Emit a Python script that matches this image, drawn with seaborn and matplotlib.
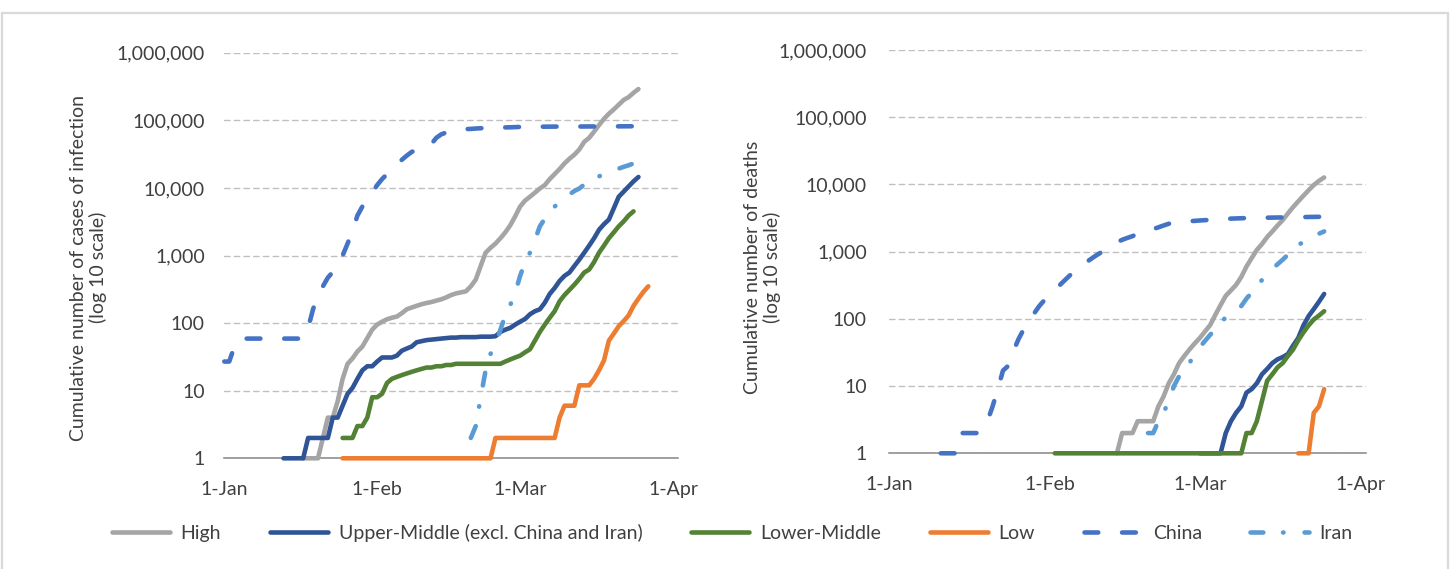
import matplotlib
matplotlib.use("Agg")
import matplotlib.pyplot as plt
import matplotlib.dates as mdates
from matplotlib.ticker import FixedLocator, FuncFormatter, NullLocator
from matplotlib.lines import Line2D
from matplotlib.patches import Rectangle
import pandas as pd
import seaborn as sns

# ---------------- data ----------------
GROUPS = ["High", "Upper-Middle (excl. China and Iran)", "Lower-Middle", "Low", "China", "Iran"]
X_TICKS = ["2020-01-01", "2020-02-01", "2020-03-01", "2020-04-01"]
X_TICK_LABELS = ["1-Jan", "1-Feb", "1-Mar", "1-Apr"]
Y_TICKS = [1, 10, 100, 1000, 10000, 100000, 1000000]

# Cumulative cases (daily values from the start date)
cases_high_start = "2020-01-17"
cases_high = [1, 1, 1, 1, 2, 4, 4, 7, 15, 25, 30, 38, 45, 60, 80,
              95, 105, 114, 120, 125, 140, 160, 170, 180, 190, 198, 205, 215, 225, 240,
              260, 275, 285, 295, 350, 440, 700, 1100, 1300, 1500, 1800, 2200, 2800, 3800,
              5300, 6500, 7400, 8500, 9800, 11000, 13500, 16000, 19000, 23000, 27000, 31000,
              37000, 48000, 55000, 68000, 85000, 105000, 125000, 145000, 170000, 200000,
              220000, 255000, 290000]
cases_um_start = "2020-01-13"
cases_um = [1, 1, 1, 1, 1, 2, 2, 2, 2, 2, 4, 4, 6, 9, 11, 15, 20, 23, 23,
            27, 31, 31, 31, 33, 39, 42, 45, 52, 54, 56, 57, 58, 59, 60, 61, 61, 62, 62, 62,
            62, 63, 63, 63, 64, 74, 80, 85, 95,
            105, 115, 135, 150, 160, 200, 270, 330, 420, 500, 560, 700, 870, 1100, 1400,
            1800, 2400, 2900, 3400, 5000, 7400, 8800, 10500, 12500, 14500]
cases_lm_start = "2020-01-25"
cases_lm = [2, 2, 2, 3, 3, 4, 8,
            8, 9, 13, 15, 16, 17, 18, 19, 20, 21, 22, 22, 23, 23, 24, 24, 25, 25, 25, 25,
            25, 25, 25, 25, 25, 25, 27, 29,
            31, 33, 37, 41, 55, 74, 95, 120, 150, 210, 260, 310, 370, 450, 560, 620, 800,
            1100, 1400, 1800, 2200, 2700, 3200, 3900, 4500]
cases_low_start = "2020-01-25"
cases_low = [1] * 31 + [2, 2, 2, 2, 2, 2, 2, 2, 2, 2, 2, 2,
                        2, 4, 6, 6, 6, 12, 12, 12, 15, 20, 28, 55, 70, 90, 107, 130, 180,
                        230, 290, 350]
cases_china_start = "2020-01-01"
cases_china = [27, 27, 44, 44, 59, 59, 59, 59, 59, 59, 59, 59, 59, 59, 59, 59,
               60, 85, 160, 260, 350, 470, 570, 800, 1000, 1500, 2300, 3900, 5300, 6700, 8500,
               11000, 13500, 16000, 18500, 22000, 26000, 30000, 34000, 37000, 40000, 42600,
               44700, 55000, 62000, 66000, 68500, 70500, 72400, 74200, 74600, 75500, 76300,
               76900, 77200, 77700, 78100, 78500, 78800, 79300,
               79800, 80000, 80200, 80300, 80400, 80500, 80600, 80700, 80750, 80800, 80850,
               80900, 80950, 81000, 81050, 81100, 81150, 81200, 81250, 81300, 81400, 81500,
               81600, 81650, 81700]
cases_iran_start = "2020-02-20"
cases_iran = [2, 3, 8, 20, 35, 48, 80, 130, 185, 280,
              500, 800, 1100, 1700, 2700, 3500, 4400, 5300, 6100, 6800, 8000, 9000, 9800,
              11200, 12600, 13900, 14800, 16000, 17000, 18100, 19300, 20500, 21600, 23000]

# Cumulative deaths
deaths_high_start = "2020-02-14"
deaths_high = [1, 2, 2, 2, 3, 3, 3, 3, 5, 7, 11, 15, 22, 28, 35, 43,
               52, 65, 81, 115, 160, 220, 265, 320, 420, 600, 800, 1060, 1300, 1650, 2000,
               2450, 2950, 3700, 4600, 5600, 6800, 8200, 9800, 11300, 12700]
deaths_um_start = "2020-03-01"
deaths_um = [1, 1, 1, 1, 1, 2, 3, 4, 5, 8, 9, 11, 15, 18, 22, 25, 27, 30, 40, 52,
             80, 110, 140, 180, 235]
deaths_lm_start = "2020-02-02"
deaths_lm = [1] * 37 + [2, 2, 3, 6, 12, 15, 19, 22, 28, 35, 48, 63, 80, 98, 112, 130]
deaths_low_start = "2020-03-20"
deaths_low = [1, 1, 1, 4, 5, 9]
deaths_china_start = "2020-01-11"
deaths_china = [1, 1, 1, 1, 2, 2, 2, 2, 2.5, 3, 5, 9, 17, 20, 33, 50, 70, 95, 120, 155, 190,
                220, 270, 320, 380, 450, 530, 610, 690, 780, 880, 980, 1100, 1230, 1380,
                1500, 1600, 1700, 1850, 1950, 2050, 2170, 2300, 2450, 2600, 2700, 2740, 2790,
                2840, 2870,
                2910, 2940, 2980, 3010, 3040, 3070, 3100, 3120, 3140, 3160, 3170, 3180, 3190,
                3200, 3210, 3220, 3230, 3240, 3250, 3260, 3270, 3280, 3290, 3300, 3300]
deaths_iran_start = "2020-02-20"
deaths_iran = [2, 2, 3, 4, 6, 10, 14, 17, 22, 30,
               38, 47, 58, 70, 88, 105, 120, 138, 155, 200, 245, 300, 380, 450, 550, 650,
               760, 900, 1100, 1250, 1400, 1550, 1700, 1850, 2000]

CASES = {
    "High": (cases_high_start, cases_high),
    "Upper-Middle (excl. China and Iran)": (cases_um_start, cases_um),
    "Lower-Middle": (cases_lm_start, cases_lm),
    "Low": (cases_low_start, cases_low),
    "China": (cases_china_start, cases_china),
    "Iran": (cases_iran_start, cases_iran),
}
DEATHS = {
    "High": (deaths_high_start, deaths_high),
    "Upper-Middle (excl. China and Iran)": (deaths_um_start, deaths_um),
    "Lower-Middle": (deaths_lm_start, deaths_lm),
    "Low": (deaths_low_start, deaths_low),
    "China": (deaths_china_start, deaths_china),
    "Iran": (deaths_iran_start, deaths_iran),
}

# ---------------- style ----------------
COLORS = {"High": "#A5A5A5", "Upper-Middle (excl. China and Iran)": "#2F5597",
          "Lower-Middle": "#548235", "Low": "#ED7D31", "China": "#4472C4", "Iran": "#5B9BD5"}
DASHES = {"High": "", "Upper-Middle (excl. China and Iran)": "", "Lower-Middle": "",
          "Low": "", "China": (3.0, 5.2), "Iran": (2.8, 4.3, 0.1, 4.6)}
LW = 3.3
TXT = "#404040"
FS = 14


def to_frame(d):
    rows = []
    for g in GROUPS:
        start, vals = d[g]
        dates = pd.date_range(start, periods=len(vals), freq="D")
        rows.append(pd.DataFrame({"date": dates, "value": vals, "group": g}))
    return pd.concat(rows, ignore_index=True)


sns.set_theme(style="white")
plt.rcParams["font.family"] = ["Lato", "DejaVu Sans"]
plt.rcParams["lines.solid_capstyle"] = "round"
plt.rcParams["lines.dash_capstyle"] = "round"
plt.rcParams["lines.solid_joinstyle"] = "round"
plt.rcParams["lines.dash_joinstyle"] = "round"

W, H = 1454, 569
fig = plt.figure(figsize=(W / 100, H / 100), dpi=100)
fig.patch.set_facecolor("white")
axL = fig.add_axes([224.3 / W, 1 - 458.3 / H, (677.9 - 224.3) / W, (458.3 - 52.7) / H])
axR = fig.add_axes([889 / W, 1 - 453.3 / H, (1365.6 - 889) / W, (453.3 - 50) / H])

panels = [
    (axL, to_frame(CASES), "Cumulative number of cases of infection\n(log 10 scale)", 14, (-0.258, 0.47)),
    (axR, to_frame(DEATHS), "Cumulative number of deaths\n(log 10 scale)", 16, (-0.226, 0.462)),
]

xt = mdates.date2num(pd.to_datetime(X_TICKS))
for ax, df, ylab, ypad, lab_xy in panels:
    sns.lineplot(data=df, x="date", y="value", hue="group", style="group",
                 hue_order=GROUPS, style_order=GROUPS, palette=COLORS, dashes=DASHES,
                 linewidth=LW, estimator=None, legend=False, ax=ax,
                 clip_on=False, zorder=3)
    ax.set_yscale("log")
    ax.set_ylim(1, 1e6)
    ax.set_xlim(pd.Timestamp("2020-01-01"), pd.Timestamp("2020-04-02"))
    ax.yaxis.set_major_locator(FixedLocator(Y_TICKS))
    ax.yaxis.set_minor_locator(NullLocator())
    ax.yaxis.set_major_formatter(FuncFormatter(lambda v, p: f"{int(round(v)):,}"))
    ax.xaxis.set_major_locator(FixedLocator(xt))
    ax.xaxis.set_minor_locator(NullLocator())
    ax.set_xticklabels(X_TICK_LABELS)
    ax.tick_params(axis="y", length=0, pad=ypad, labelsize=FS, labelcolor=TXT)
    ax.tick_params(axis="x", direction="inout", length=7, width=1.1, color="#868686",
                   pad=13, labelsize=FS, labelcolor=TXT)
    ax.yaxis.grid(True, color="#C0C0C0", linewidth=1.0, linestyle=(0, (4, 3)))
    ax.xaxis.grid(False)
    for s in ["top", "left", "right"]:
        ax.spines[s].set_visible(False)
    ax.spines["bottom"].set_color("#868686")
    ax.spines["bottom"].set_linewidth(1.1)
    ax.set_xlabel("")
    ax.set_ylabel(ylab, fontsize=FS, color=TXT, linespacing=1.15)
    ax.yaxis.set_label_coords(*lab_xy)
    ax.set_facecolor("white")

handles = [Line2D([], [], color=COLORS[g], linewidth=LW,
                  linestyle="-" if DASHES[g] == "" else (0, DASHES[g]),
                  solid_capstyle="round", dash_capstyle="round") for g in GROUPS]
fig.legend(handles, GROUPS, loc="center", bbox_to_anchor=(0.5035, 0.064), ncol=6,
           frameon=False, fontsize=FS, handlelength=3.0, handletextpad=0.55,
           columnspacing=2.5, labelcolor=TXT)

fig.patches.append(Rectangle((2 / W, -0.02), (1448 - 2) / W, 1 - 13.3 / H + 0.02,
                             transform=fig.transFigure, fill=False,
                             edgecolor="#D9D9D9", linewidth=1.6))

fig.savefig("out.png", dpi=100, facecolor="white")
